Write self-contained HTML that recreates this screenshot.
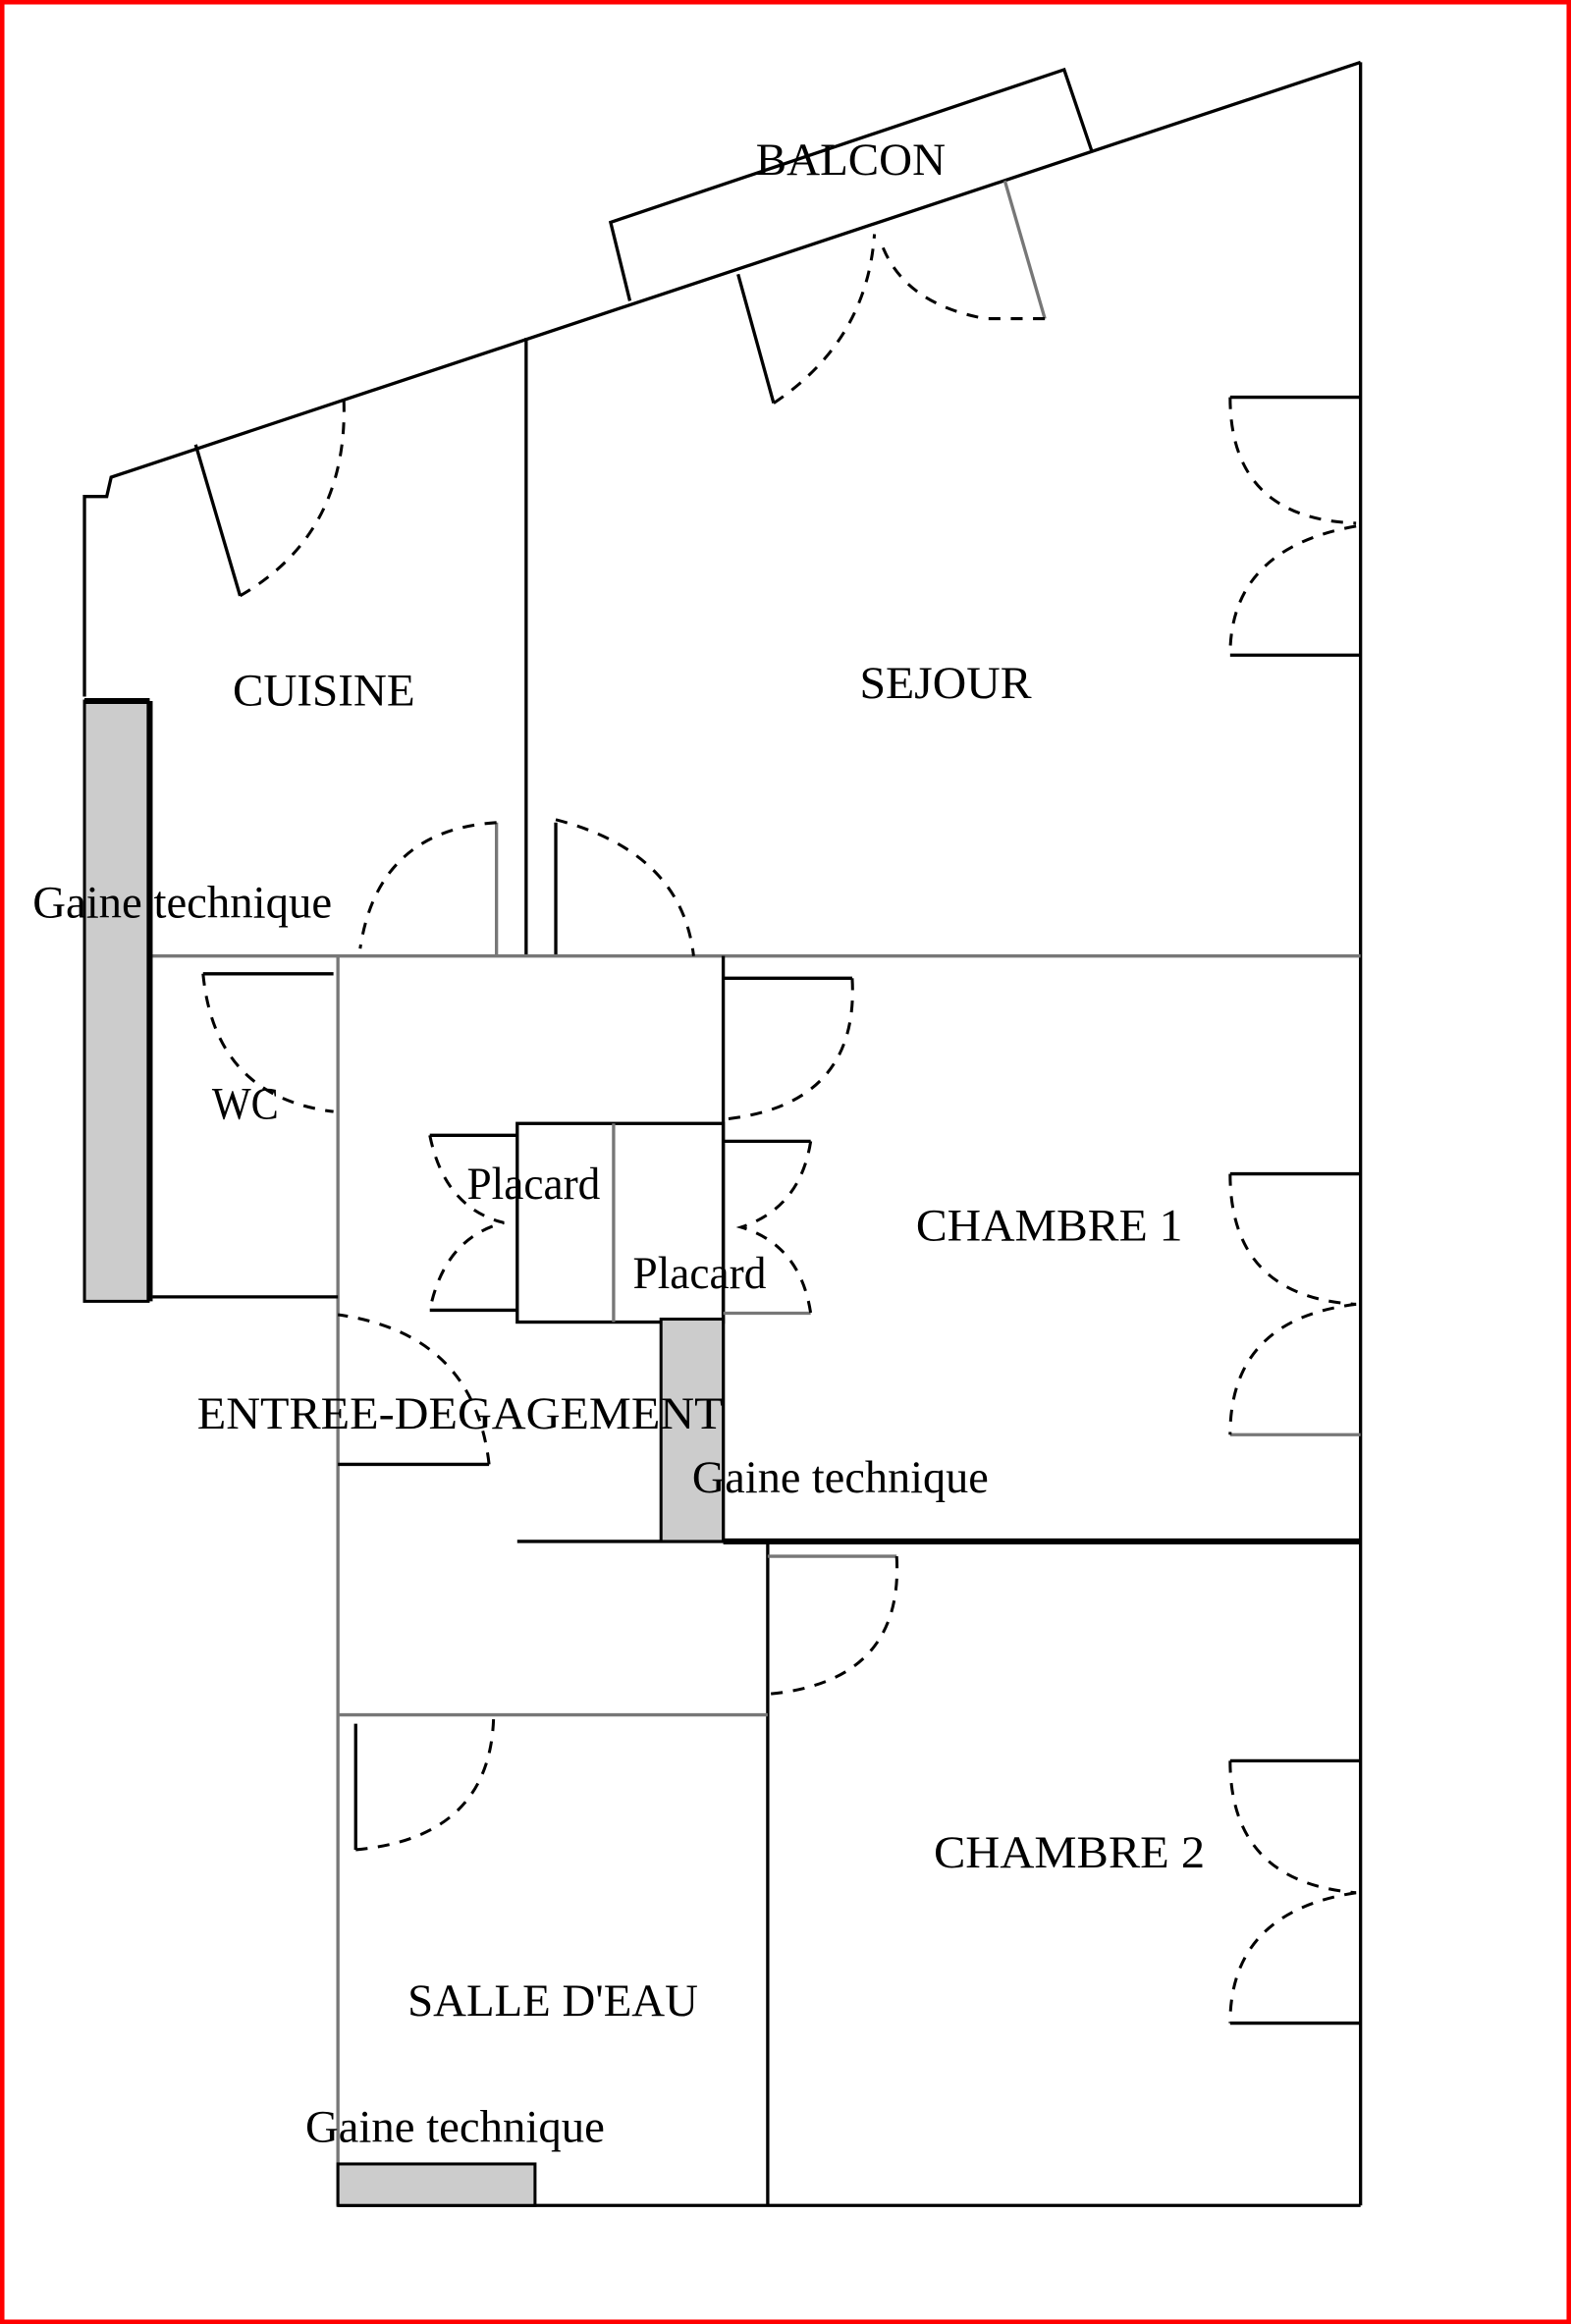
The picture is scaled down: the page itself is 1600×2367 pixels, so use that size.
<!DOCTYPE html>
<html><head><meta charset="utf-8"><style>
html,body{margin:0;padding:0;background:#fff;}
svg{display:block;}
text{font-family:"Liberation Serif",serif;font-size:31px;fill:#000;}
</style></head><body>
<svg width="1600" height="2367" viewBox="0 0 1060 1568" preserveAspectRatio="none" xmlns="http://www.w3.org/2000/svg">
<rect x="1.5" y="1.5" width="1057" height="1565" fill="#fff" stroke="#f00" stroke-width="3"/>
<g fill="none" stroke="#000" stroke-width="2.2">
<polyline points="918,42 75,322 72,335 57,335 57,470"/>
<line x1="918" y1="42" x2="918" y2="1488"/>
<line x1="228" y1="1488" x2="918" y2="1488"/>
<polyline points="425,203 412,150 718,47 737,103"/>
<line x1="355" y1="228" x2="355" y2="645"/>
<line x1="375" y1="555" x2="375" y2="645"/>
<line x1="335" y1="555" x2="335" y2="645" stroke="#777"/>
<line x1="132" y1="300" x2="162" y2="402"/>
<line x1="498" y1="185" x2="522" y2="272"/>
<line x1="678" y1="122" x2="705" y2="215" stroke="#777"/>
<line x1="830" y1="268" x2="918" y2="268"/>
<line x1="830" y1="442" x2="918" y2="442"/>
<line x1="830" y1="792" x2="918" y2="792"/>
<line x1="830" y1="968" x2="918" y2="968" stroke="#777"/>
<line x1="830" y1="1188" x2="918" y2="1188"/>
<line x1="830" y1="1365" x2="918" y2="1365"/>
<line x1="103" y1="645" x2="918" y2="645" stroke="#777"/>
<line x1="228" y1="645" x2="228" y2="1488" stroke="#777"/>
<line x1="488" y1="645" x2="488" y2="1040"/>
<line x1="103" y1="875" x2="228" y2="875"/>
<line x1="137" y1="657" x2="225" y2="657"/>
<line x1="488" y1="660" x2="575" y2="660"/>
<rect x="349" y="758" width="139" height="134"/>
<line x1="414" y1="758" x2="414" y2="892" stroke="#777"/>
<line x1="290" y1="766" x2="349" y2="766"/>
<line x1="290" y1="884" x2="349" y2="884"/>
<line x1="488" y1="770" x2="547" y2="770"/>
<line x1="488" y1="886" x2="547" y2="886" stroke="#777"/>
<line x1="228" y1="988" x2="330" y2="988"/>
<line x1="349" y1="1040" x2="488" y2="1040"/>
<line x1="488" y1="1040" x2="918" y2="1040" stroke-width="4"/>
<line x1="518" y1="1040" x2="518" y2="1488"/>
<line x1="518" y1="1050" x2="605" y2="1050" stroke="#777"/>
<line x1="228" y1="1157" x2="518" y2="1157" stroke="#777"/>
<line x1="240" y1="1163" x2="240" y2="1248"/>
</g>
<rect x="57" y="473" width="43" height="405" fill="#ccc" stroke="#000" stroke-width="2"/>
<line x1="57" y1="473" x2="101" y2="473" stroke="#000" stroke-width="4"/>
<line x1="101" y1="473" x2="101" y2="878" stroke="#000" stroke-width="4"/>
<rect x="446" y="890" width="42" height="150" fill="#ccc" stroke="#000" stroke-width="2"/>
<rect x="228" y="1460" width="133" height="28" fill="#ccc" stroke="#000" stroke-width="2"/>
<g fill="none" stroke="#000" stroke-width="2" stroke-dasharray="8,7">
<path d="M162,402 Q235,360 232,270"/>
<path d="M522,272 Q585,230 590,158"/>
<path d="M705,215 L665,215 Q610,205 595,165"/>
<path d="M335,555 Q255,560 243,640"/>
<path d="M375,553 Q460,575 468,645"/>
<path d="M830,268 Q830,350 915,353"/>
<path d="M915,355 Q830,370 830,442"/>
<path d="M830,792 Q830,875 915,880"/>
<path d="M915,880 Q830,890 830,968"/>
<path d="M830,1188 Q830,1270 915,1277"/>
<path d="M915,1277 Q830,1290 830,1365"/>
<path d="M137,657 Q145,740 225,750"/>
<path d="M575,660 Q580,745 490,755"/>
<path d="M290,766 Q300,815 340,825 Q300,835 290,884"/>
<path d="M547,770 Q540,815 500,828 Q540,840 547,886"/>
<path d="M330,988 Q320,900 228,887"/>
<path d="M605,1050 Q610,1135 518,1143"/>
<path d="M240,1248 Q330,1240 333,1160"/>
</g>
<text x="510" y="118" textLength="128" lengthAdjust="spacingAndGlyphs">BALCON</text>
<text x="157" y="476" textLength="123" lengthAdjust="spacingAndGlyphs">CUISINE</text>
<text x="580" y="471" textLength="116" lengthAdjust="spacingAndGlyphs">SEJOUR</text>
<text x="22" y="619" textLength="202" lengthAdjust="spacingAndGlyphs">Gaine technique</text>
<text x="143" y="755" textLength="45" lengthAdjust="spacingAndGlyphs">WC</text>
<text x="315" y="809" textLength="90" lengthAdjust="spacingAndGlyphs">Placard</text>
<text x="427" y="869" textLength="90" lengthAdjust="spacingAndGlyphs">Placard</text>
<text x="618" y="837" textLength="180" lengthAdjust="spacingAndGlyphs">CHAMBRE 1</text>
<text x="133" y="964" textLength="355" lengthAdjust="spacingAndGlyphs">ENTREE-DEGAGEMENT</text>
<text x="467" y="1007" textLength="200" lengthAdjust="spacingAndGlyphs">Gaine technique</text>
<text x="630" y="1260" textLength="183" lengthAdjust="spacingAndGlyphs">CHAMBRE 2</text>
<text x="275" y="1360" textLength="196" lengthAdjust="spacingAndGlyphs">SALLE D'EAU</text>
<text x="206" y="1445" textLength="202" lengthAdjust="spacingAndGlyphs">Gaine technique</text>
</svg>
</body></html>
